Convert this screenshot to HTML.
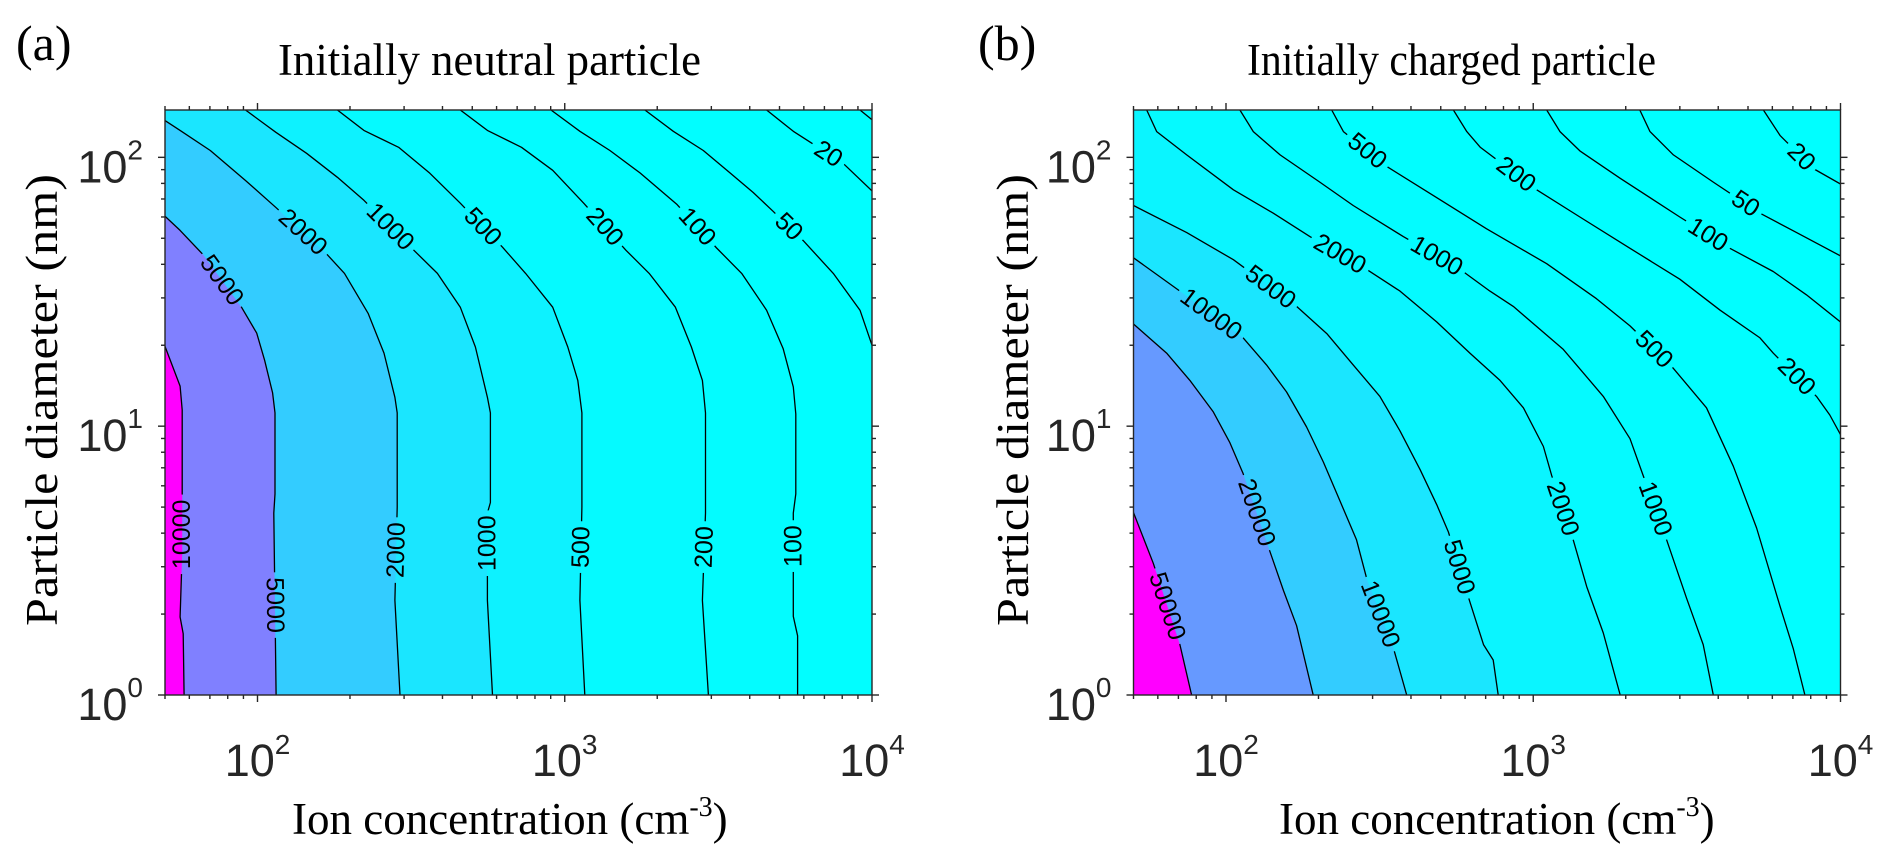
<!DOCTYPE html>
<html><head><meta charset="utf-8"><style>
html,body{margin:0;padding:0;background:#fff;}
svg{display:block;}
</style></head><body>
<svg id="fig" width="1892" height="864" viewBox="0 0 1892 864" xmlns="http://www.w3.org/2000/svg">
<rect x="0" y="0" width="1892" height="864" fill="#fff"/>
<text x="16" y="60" font-family="Liberation Serif, serif" font-size="50">(a)</text>
<text x="978" y="60" font-family="Liberation Serif, serif" font-size="50">(b)</text>
<text x="278" y="75" font-family="Liberation Serif, serif" font-size="45" textLength="423" lengthAdjust="spacingAndGlyphs">Initially neutral particle</text>
<text x="1247" y="75" font-family="Liberation Serif, serif" font-size="45" textLength="409" lengthAdjust="spacingAndGlyphs">Initially charged particle</text>
<text x="292" y="834" font-family="Liberation Serif, serif" font-size="45">Ion concentration (cm<tspan font-size="28" dy="-18">-3</tspan><tspan dy="18">)</tspan></text>
<text x="1279" y="834" font-family="Liberation Serif, serif" font-size="45">Ion concentration (cm<tspan font-size="28" dy="-18">-3</tspan><tspan dy="18">)</tspan></text>
<text transform="translate(57,400) rotate(-90)" text-anchor="middle" font-family="Liberation Serif, serif" font-size="46" textLength="452" lengthAdjust="spacingAndGlyphs">Particle diameter (nm)</text>
<text transform="translate(1028,400) rotate(-90)" text-anchor="middle" font-family="Liberation Serif, serif" font-size="46" textLength="452" lengthAdjust="spacingAndGlyphs">Particle diameter (nm)</text>
<g id="panelA"></g>
<g id="panelB"></g>
</svg>
<script>
// ---------- Panel (a): initially neutral particle ----------
const levelsA = [10, 20, 50, 100, 200, 500, 1000, 2000, 5000, 10000];
const cA10 = [[9140,150],[10000,138]];
const cA20 = [[4540,150],[5545,125],[8050,95],[10000,75]];
const cA50 = [[1824,150],[2255,125],[2825,106],[3450,87.5],[4105,74],[4765,63],[5970,49],[7480,37],[9140,27],[10000,20]];
const cA100 = [[902,150],[1120,125],[1403,106],[1758,87.5],[2312,67],[3120,46],[3765,37],[4540,27],[5140,19.4],[5545,14],[5650,11.1],[5650,5.6],[5545,4.75],[5545,1.96],[5725,1.66],[5725,1]];
const cA200 = [[457,150],[560,126],[723,109],[914,89.5],[1153,67.5],[1582,45.1],[1883,37],[2291,27.7],[2584,19.7],[2805,14.8],[2871,11.2],[2871,4.75],[2805,2.25],[2934,1]];
const cA500 = [[182,150],[222,126],[288,109],[364,87.2],[457,67.5],[627,46.3],[746,37],[914,27.7],[1023,19.7],[1103,14.8],[1137,11.2],[1137,5],[1120,2.25],[1162,1]];
const cA1000 = [[91.4,150],[114.6,124],[144.5,103.5],[182,84.3],[222,69.2],[323,45.1],[385,37],[457,27.7],[512,19.7],[560,12.8],[573,11.2],[573,5.2],[560,4.75],[560,2.25],[582,1]];
const cA2000 = [[50,137],[56,126],[70.2,106],[91.4,82],[114.6,65.2],[167,44],[192,37],[229,26.3],[258,18.7],[280,12.8],[285,11.2],[285,5],[280,2.25],[291,1]];
const cA5000 = [[50,60.4],[56,53.5],[66.7,43.3],[88.7,27.7],[99.4,22.2],[105.5,17.6],[112,13.3],[114,11.2],[114,5.6],[113,4.75],[115,1]];
const cA10000 = [[50,19.8],[56,14.1],[56.9,11.5],[56.9,3.4],[56,1.95],[57.3,1.69],[57.7,1]];
const contoursA = [cA10, cA20, cA50, cA100, cA200, cA500, cA1000, cA2000, cA5000, cA10000];
const labelLevelsA = [10000, 5000, 2000, 1000, 500, 200, 100, 5000, 2000, 1000, 500, 200, 100, 50, 20];
const labelYsA = [3.96, 2.16, 3.46, 3.67, 3.55, 3.55, 3.58, 34.9, 52.7, 55.2, 55.2, 55.2, 55.2, 55.2, 103];

// ---------- Panel (b): initially charged particle ----------
const levelsB = [20, 50, 100, 200, 500, 1000, 2000, 5000, 10000, 20000, 50000];
const cB20 = [[5610,150],[6353,120.7],[8147,90.9],[10000,79.6]];
const cB50 = [[2223,150],[2399,124.7],[2858,102.1],[3855,80.9],[5470,62],[7194,52.5],[10000,43]];
const cB100 = [[1106,150],[1222,124.7],[1419,105.7],[1919,83.6],[3000,60],[4365,45.9],[6040,37.6],[7745,30.8],[10000,24.4]];
const cB200 = [[549.5,150],[608,124.7],[671.4,109.2],[1026,75.7],[1419,60],[2065,45.9],[3000,35.2],[4055,27],[5470,21.3],[6040,18.7],[8356,12.9],[9230,11],[10000,9.3]];
const cB500 = [[220.8,150],[241,124.7],[333.4,92.5],[485.3,70.8],[705,54.2],[1106,40.2],[1607,29.8],[2065,23.6],[2858,16.4],[3664,11.7],[4477,7.1],[5333,4.18],[6353,2.14],[7015,1.49],[7656,1]];
const cB1000 = [[111,150],[122.7,124.7],[150,102.1],[202,80.9],[259.4,66.2],[377.6,50.7],[578,38.3],[722.8,31.8],[861,27.9],[1253,19.3],[1690,12.9],[2065,8.98],[2280,6.55],[2716,3.78],[3155,2.29],[3573,1.54],[3855,1]];
const cB2000 = [[55.2,150],[59.5,124.7],[74.5,102.1],[105.7,75.7],[142.6,62],[187.5,50.7],[287,38.3],[368.3,31.8],[485.3,24.4],[622,18.7],[779.6,14.8],[929,11.7],[1079,8.4],[1148,6.55],[1349,3.78],[1493,2.53],[1690,1.7],[1919,1]];
const cB5000 = [[50,66.2],[74.5,52.5],[105.7,41.6],[169.8,27.9],[212.8,22.1],[259.4,16.9],[316.9,12.9],[368.3,9.6],[428.5,6.88],[485.3,5.1],[529.6,4.04],[622,2.22],[688.6,1.54],[741,1.35],[769,1]];
const cB10000 = [[50,42.3],[70.8,31.8],[113.8,21.3],[135.5,16.9],[157.5,13.4],[183,9.93],[207.5,7.35],[235,5.27],[266,3.78],[287,2.71],[350.8,1.49],[387.3,1]];
const cB20000 = [[50,24],[64.1,18.7],[76.3,14.8],[90.9,11.3],[103,8.68],[113.8,6.65],[139,3.42],[153.8,2.45],[169.8,1.81],[192.3,1]];
const cB50000 = [[50,4.77],[58,3.09],[70.8,1.54],[77.3,1]];
const contoursB = [cB20, cB50, cB100, cB200, cB500, cB1000, cB2000, cB5000, cB10000, cB20000, cB50000];
const labelLevelsB = [50000, 20000, 10000, 10000, 5000, 5000, 2000, 2000, 1000, 1000, 500, 500, 200, 200, 100, 50, 20];
const labelYsB = [2.14, 4.77, 26.1, 2.0, 32.9, 2.99, 43.7, 4.93, 43, 4.93, 105.7, 19.3, 86.5, 15.3, 51.6, 67.3, 100.5];

// ---------- axis tick values ----------
const xTickVals = [50,60,70,80,90,100,200,300,400,500,600,700,800,900,1000,2000,3000,4000,5000,6000,7000,8000,9000,10000];
const xMajorVals = [100, 1000, 10000];
const xMajorExps = ['2', '3', '4'];
const yTickVals = [1,2,3,4,5,6,7,8,9,10,20,30,40,50,60,70,80,90,100];
const yMajorVals = [1, 10, 100];
const yMajorExps = ['0', '1', '2'];

const NS = 'http://www.w3.org/2000/svg';
function mk(tag, attrs, parent) {
  const e = document.createElementNS(NS, tag);
  for (const k in attrs) e.setAttribute(k, attrs[k]);
  if (parent) parent.appendChild(e);
  return e;
}
function cool(t) {
  t = Math.max(0, Math.min(1, t));
  return 'rgb(' + Math.round(255 * t) + ',' + Math.round(255 * (1 - t)) + ',255)';
}

function drawPanel(root, id, L, T, W, H, levels, contours, labelLevels, labelYs) {
  const xmin = 50, xmax = 10000, ymin = 1, ymax = 150;
  const sx = v => L + (Math.log10(v) - Math.log10(xmin)) / (Math.log10(xmax) - Math.log10(xmin)) * W;
  const sy = d => T + H - (Math.log10(d) - Math.log10(ymin)) / (Math.log10(ymax) - Math.log10(ymin)) * H;
  const R = L + W, B = T + H;
  const maxLevel = levels[levels.length - 1];

  const defs = mk('defs', {}, root);
  const cp = mk('clipPath', {id: 'clip' + id}, defs);
  mk('rect', {x: L, y: T, width: W, height: H}, cp);
  const mask = mk('mask', {id: 'mask' + id, maskUnits: 'userSpaceOnUse', x: 0, y: 0, width: 1892, height: 864}, defs);
  mk('rect', {x: 0, y: 0, width: 1892, height: 864, fill: '#fff'}, mask);

  const fills = mk('g', {'clip-path': 'url(#clip' + id + ')'}, root);
  
  
  const bg = mk('rect', {x: L, y: T, width: W, height: H, fill: cool(0)}, fills);
  
  

  const pix = contours.map(c => c.map(p => [sx(p[0]), sy(p[1])]));
  pix.forEach((pts, i) => {
    let d = 'M' + pts.map(p => p[0].toFixed(1) + ',' + p[1].toFixed(1)).join(' L');
    const first = pts[0], last = pts[pts.length - 1];
    if (last[0] >= R - 0.5) d += ' L' + R + ',' + B;
    d += ' L' + L + ',' + B;
    if (first[1] <= T + 0.5) d += ' L' + L + ',' + T;
    d += ' Z';
    const poly = mk('path', {d: d, fill: cool(levels[i] / maxLevel), stroke: 'none'}, fills);
    
    
  });

  const lines = mk('g', {'clip-path': 'url(#clip' + id + ')'}, root);
  const lines2 = mk('g', {mask: 'url(#mask' + id + ')'}, lines);
  
  
  pix.forEach((pts, i) => {
    const pl = mk('polyline', {points: pts.map(p => p[0].toFixed(1) + ',' + p[1].toFixed(1)).join(' '), fill: 'none', stroke: '#000', 'stroke-width': 1.3, 'stroke-linejoin': 'round'}, lines2);
    
    
  });

  const labs = mk('g', {}, root);
  
  
  labelLevels.forEach((lev, k) => {
    const ci = levels.indexOf(lev);
    if (ci < 0) return;
    const pts = pix[ci];
    const ty = sy(labelYs[k]);
    for (let j = 0; j < pts.length - 1; j++) {
      const a = pts[j], b = pts[j + 1];
      if ((a[1] - ty) * (b[1] - ty) <= 0 && a[1] !== b[1]) {
        const f = (ty - a[1]) / (b[1] - a[1]);
        const x = a[0] + f * (b[0] - a[0]);
        let ang = Math.atan2(b[1] - a[1], b[0] - a[0]) * 180 / Math.PI;
        if (ang >= 90) ang -= 180;
        if (ang < -90) ang += 180;
        const str = String(lev);
        const w = str.length * 13.9 + 10;
        const tr = 'translate(' + x.toFixed(1) + ',' + ty.toFixed(1) + ') rotate(' + ang.toFixed(1) + ')';
        mk('rect', {x: -w / 2, y: -13, width: w, height: 26, fill: '#000', transform: tr}, mask);
        const t = mk('text', {transform: tr, 'text-anchor': 'middle', 'dominant-baseline': 'central', 'font-family': 'Liberation Sans, sans-serif', 'font-size': 25, fill: '#000'}, labs);
        t.textContent = str;
        
        
        break;
      }
    }
  });

  const ax = mk('g', {stroke: '#262626', 'stroke-width': 1.4, fill: 'none'}, root);
  
  
  mk('rect', {x: L, y: T, width: W, height: H}, ax);
  xTickVals.forEach(v => {
    const x = sx(v), len = xMajorVals.includes(v) ? 7 : 4;
    mk('line', {x1: x, y1: B, x2: x, y2: B + len}, ax);
    mk('line', {x1: x, y1: T, x2: x, y2: T - len}, ax);
  });
  yTickVals.forEach(v => {
    const y = sy(v), len = yMajorVals.includes(v) ? 7 : 4;
    mk('line', {x1: L, y1: y, x2: L - len, y2: y}, ax);
    mk('line', {x1: R, y1: y, x2: R + len, y2: y}, ax);
  });

  xMajorVals.forEach((v, i) => {
    const g = mk('g', {transform: 'translate(' + sx(v).toFixed(1) + ',776)'}, root);
    const t = mk('text', {x: 0, y: 0, 'text-anchor': 'middle', 'font-family': 'Liberation Sans, sans-serif', 'font-size': 45, fill: '#262626'}, g);
    
    
    t.appendChild(document.createTextNode('10'));
    const s = mk('tspan', {dy: -22, 'font-size': 28}, t);
    s.textContent = xMajorExps[i];
  });
  yMajorVals.forEach((v, i) => {
    const g = mk('g', {transform: 'translate(' + (L - 22) + ',' + (sy(v) + 25).toFixed(1) + ')'}, root);
    const t = mk('text', {x: 0, y: 0, 'text-anchor': 'end', 'font-family': 'Liberation Sans, sans-serif', 'font-size': 45, fill: '#262626'}, g);
    
    
    t.appendChild(document.createTextNode('10'));
    const s = mk('tspan', {dy: -23, 'font-size': 28}, t);
    s.textContent = yMajorExps[i];
  });
}

drawPanel(document.getElementById('panelA'), 'A', 165, 110, 707, 585, levelsA, contoursA, labelLevelsA, labelYsA);
drawPanel(document.getElementById('panelB'), 'B', 1133.5, 110, 707, 585, levelsB, contoursB, labelLevelsB, labelYsB);
</script>
</body></html>
